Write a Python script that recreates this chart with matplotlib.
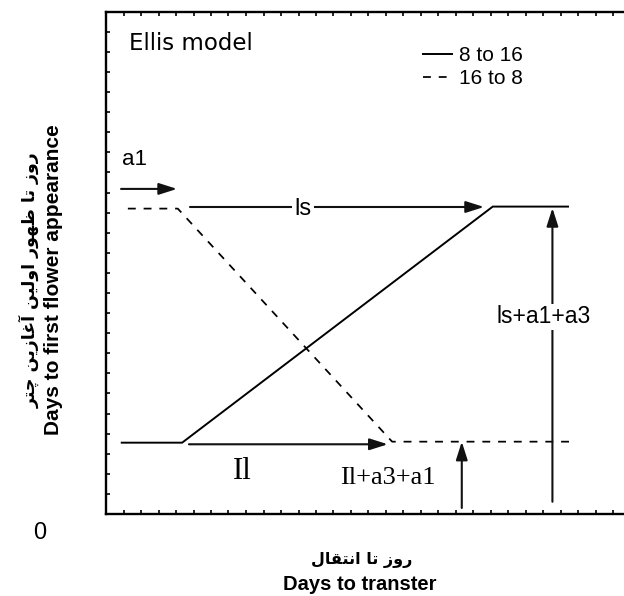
import matplotlib
matplotlib.use("Agg")
import matplotlib.pyplot as plt
import numpy as np

# ---------------- data ----------------
solid_x = [0.9, 4.35, 22.1, 26.4]      # 8 to 16
solid_y = [3.55, 3.55, 15.3, 15.3]
dashed_x = [1.25, 4.1, 16.35, 26.8]    # 16 to 8
dashed_y = [15.2, 15.2, 3.6, 3.6]

arrow_names = ["a1", "ls", "Il", "Il+a3+a1", "ls+a1+a3"]
arrow_tail_x = [0.86, 4.8, 4.74, 20.33, 25.51]
arrow_tail_y = [16.18, 15.28, 3.47, 0.3, 0.61]
arrow_tip_x = [4.06, 21.6, 16.1, 20.33, 25.51]
arrow_tip_y = [16.18, 15.28, 3.47, 3.6, 15.23]

legend_labels = ["8 to 16", "16 to 8"]

ylabel_fa = "روز تا ظهور اولین آغازین چتر"
ylabel_en = "Days to first flower appearance"
xlabel_fa = "روز تا انتقال"
xlabel_en = "Days to transter"

# ------------- simple Persian shaper -------------
FORMS = {
    'ا': ('\uFE8D', '\uFE8E', None, None),
    'آ': ('\uFE81', '\uFE82', None, None),
    'ر': ('\uFEAD', '\uFEAE', None, None),
    'ز': ('\uFEAF', '\uFEB0', None, None),
    'و': ('\uFEED', '\uFEEE', None, None),
    'ت': ('\uFE95', '\uFE96', '\uFE97', '\uFE98'),
    'ظ': ('\uFEC5', '\uFEC6', '\uFEC7', '\uFEC8'),
    'ه': ('\uFEE9', '\uFEEA', '\uFEEB', '\uFEEC'),
    'ل': ('\uFEDD', '\uFEDE', '\uFEDF', '\uFEE0'),
    'ی': ('\uFBFC', '\uFBFD', '\uFBFE', '\uFBFF'),
    'ن': ('\uFEE5', '\uFEE6', '\uFEE7', '\uFEE8'),
    'غ': ('\uFECD', '\uFECE', '\uFECF', '\uFED0'),
    'ق': ('\uFED5', '\uFED6', '\uFED7', '\uFED8'),
    'چ': ('\uFB7A', '\uFB7B', '\uFB7C', '\uFB7D'),
}


def shape(text):
    out = []
    n = len(text)
    for i, c in enumerate(text):
        if c not in FORMS:
            out.append(c)
            continue
        iso, fin, ini, med = FORMS[c]
        prev = text[i - 1] if i > 0 else None
        nxt = text[i + 1] if i < n - 1 else None
        jp = prev in FORMS and FORMS[prev][2] is not None
        jn = nxt in FORMS and ini is not None
        if jp and jn:
            out.append(med)
        elif jp:
            out.append(fin)
        elif jn:
            out.append(ini)
        else:
            out.append(iso)
    return "".join(out)[::-1]


# ---------------- figure ----------------
W, H, DPI = 624, 596, 100
fig = plt.figure(figsize=(W / DPI, H / DPI), dpi=DPI)
ax = fig.add_axes([106 / W, (H - 514) / H, (W - 106) / W, (514 - 11.7) / H])
ax.set_xlim(0, (W - 106) / 17.5)
ax.set_ylim(0, 25)

lw = 1.4
line_s, = ax.plot(solid_x, solid_y, color="black", lw=lw, solid_joinstyle="miter")
line_d, = ax.plot(dashed_x, dashed_y, color="black", lw=lw * 0.9, dashes=(4.5, 4.5))

for tx, ty, hx, hy in zip(arrow_tail_x, arrow_tail_y, arrow_tip_x, arrow_tip_y):
    ax.annotate("", xy=(hx, hy), xytext=(tx, ty),
                arrowprops=dict(arrowstyle="-|>,head_length=1.1,head_width=0.35",
                                lw=1.5, color="#111111", shrinkA=0, shrinkB=0))

# texts
ax.text(1.31, 23.44, "Ellis model", fontsize=16.5, family="DejaVu Sans",
        ha="left", va="center")
ax.text(0.91, 17.62, "a1", fontsize=16, family="Liberation Sans", ha="left", va="center")
ax.text(11.26, 15.2, "ls", fontsize=17, family="Liberation Sans", ha="center", va="center",
        bbox=dict(facecolor="white", edgecolor="none", pad=1.5))
ax.text(7.8, 2.14, "Il", fontsize=22, family="Liberation Serif", ha="center", va="center")
ax.text(16.11, 1.79, "Il+a3+a1", fontsize=19, family="Liberation Serif",
        ha="center", va="center")
ax.text(25.03, 9.81, "ls+a1+a3", fontsize=16.5, family="Liberation Sans",
        ha="center", va="center", bbox=dict(facecolor="white", edgecolor="none", pad=1))

leg = ax.legend([line_s, line_d], legend_labels, frameon=False,
                loc="upper left", bbox_to_anchor=(423 / W, 1 - 46 / H),
                bbox_transform=fig.transFigure, borderpad=0, borderaxespad=0,
                handlelength=1.4, handletextpad=0.35, labelspacing=0.2,
                prop=dict(family="Liberation Sans", size=15))

# axes styling
ax.set_xticks(np.arange(1, 30))
ax.set_yticks(np.arange(1, 25))
ax.tick_params(direction="in", length=3, width=1.2, top=True, right=False,
               labelbottom=False, labelleft=False)
for s in ["left", "bottom", "top"]:
    ax.spines[s].set_linewidth(1.7)
ax.spines["right"].set_visible(False)

# outside labels
fig.text(40 / W, 1 - 533 / H, "0", fontsize=17, family="Liberation Sans",
         ha="center", va="center")
fig.text(362 / W, 1 - 560 / H, shape(xlabel_fa), fontsize=11.5,
         family=["DejaVu Sans"], weight="bold", ha="center", va="center")
fig.text(360 / W, 1 - 585 / H, xlabel_en, fontsize=14.5,
         family="Liberation Sans", weight="bold", ha="center", va="center")
fig.text(30 / W, 1 - 280 / H, shape(ylabel_fa), fontsize=12.5, rotation=90,
         family=["DejaVu Sans"], weight="bold", ha="center", va="center")
fig.text(54 / W, 1 - 280 / H, ylabel_en, fontsize=15, rotation=90,
         family="Liberation Sans", weight="bold", ha="center", va="center")

fig.savefig("out.png", dpi=DPI)
